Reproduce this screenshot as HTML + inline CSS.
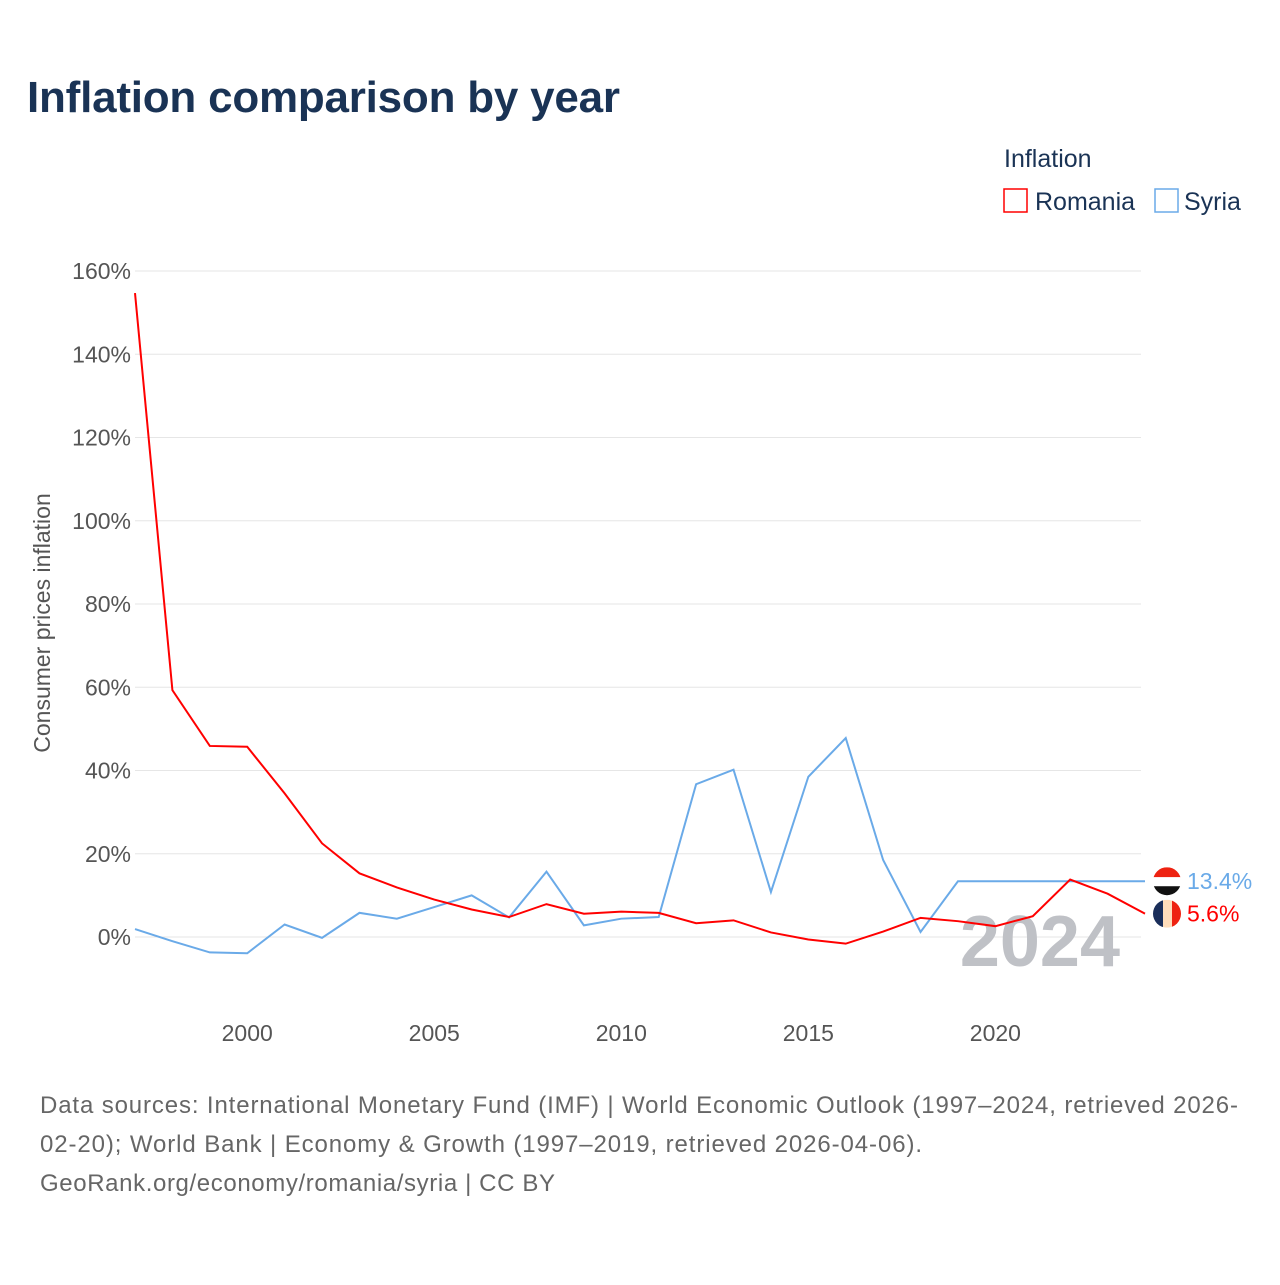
<!DOCTYPE html>
<html><head><meta charset="utf-8"><style>
body{margin:0;background:#fff;font-family:"Liberation Sans",sans-serif}
svg text{font-family:"Liberation Sans",sans-serif}
</style></head><body>
<svg width="1280" height="1280" viewBox="0 0 1280 1280">
<text x="27" y="112" font-size="44" font-weight="bold" fill="#1a3355" textLength="593">Inflation comparison by year</text>
<text x="1004" y="167" font-size="25" fill="#1a3355">Inflation</text>
<g><rect x="1004" y="189" width="23" height="23" fill="none" stroke="#f00" stroke-width="1.5"/><text x="1035" y="210" font-size="25" fill="#1a3355">Romania</text></g>
<g><rect x="1155" y="189" width="23" height="23" fill="none" stroke="#6aaae8" stroke-width="1.5"/><text x="1184" y="210" font-size="25" fill="#1a3355">Syria</text></g>
<g id="grid"></g>
<g id="yt"></g>
<g id="xt"></g>
<text transform="translate(50,623) rotate(-90)" text-anchor="middle" font-size="23" fill="#555">Consumer prices inflation</text>
<text x="1120" y="966" text-anchor="end" font-size="72" font-weight="bold" fill="#bfc1c6">2024</text>
<g id="series"></g>
<text x="40" y="1113" font-size="24" fill="#666" textLength="1198">Data sources: International Monetary Fund (IMF) | World Economic Outlook (1997–2024, retrieved 2026-</text>
<text x="40" y="1152" font-size="24" fill="#666" textLength="882">02-20); World Bank | Economy &amp; Growth (1997–2019, retrieved 2026-04-06).</text>
<text x="40" y="1191" font-size="24" fill="#666" textLength="515">GeoRank.org/economy/romania/syria | CC BY</text>
</svg>
<script>
const years=[1997,1998,1999,2000,2001,2002,2003,2004,2005,2006,2007,2008,2009,2010,2011,2012,2013,2014,2015,2016,2017,2018,2019,2020,2021,2022,2023,2024];
const romania=[154.7,59.3,45.9,45.7,34.5,22.5,15.3,11.9,9.0,6.6,4.8,7.9,5.6,6.1,5.8,3.3,4.0,1.1,-0.6,-1.6,1.3,4.6,3.8,2.6,5.0,13.8,10.4,5.6];
const syriaYears=[1997,1998,1999,2000,2001,2002,2003,2004,2005,2006,2007,2008,2009,2010,2011,2012,2013,2014,2015,2016,2017,2018,2019];
const syria=[1.9,-1.0,-3.7,-3.9,3.0,-0.2,5.8,4.4,7.2,10.0,4.7,15.7,2.8,4.4,4.8,36.7,40.2,10.8,38.5,47.8,18.5,1.2,13.4];
const yTicks=[0,20,40,60,80,100,120,140,160];
const xTicks=[2000,2005,2010,2015,2020];
const NS="http://www.w3.org/2000/svg";
const X=y=>135+(y-1997)*(1145-135)/27;
const Y=v=>937-v*(937-271)/160;
function mk(t,a,p){const e=document.createElementNS(NS,t);for(const k in a)e.setAttribute(k,a[k]);p.appendChild(e);return e;}
const grid=document.getElementById('grid'),yt=document.getElementById('yt'),xt=document.getElementById('xt'),ser=document.getElementById('series');
yTicks.forEach(v=>{
 const l=mk('line',{x1:135,x2:1141,y1:Y(v),y2:Y(v),stroke:'#e6e6e6','stroke-width':1},grid);
 
 
 const t=mk('text',{x:131,y:Y(v)+8,'text-anchor':'end','font-size':23,fill:'#555'},yt);
 t.textContent=v+'%';
 
 
});
xTicks.forEach(v=>{
 const t=mk('text',{x:X(v),y:1041,'text-anchor':'middle','font-size':23,fill:'#555'},xt);
 t.textContent=v;
 
 
});
const sPts=syriaYears.map((y,i)=>X(y)+','+Y(syria[i]));
sPts.push(X(2024)+','+Y(syria[syria.length-1]));
const sl=mk('polyline',{points:sPts.join(' '),fill:'none',stroke:'#6aaae8','stroke-width':2},ser);


const rl=mk('polyline',{points:years.map((y,i)=>X(y)+','+Y(romania[i])).join(' '),fill:'none',stroke:'#f00','stroke-width':2},ser);


const sv=syria[syria.length-1],rv=romania[romania.length-1];
const fy=Y(sv),ry=Y(rv);
const f1=mk('g',{},ser);


mk('clipPath',{id:'c1'},f1);mk('circle',{cx:1167,cy:fy,r:14},f1.firstChild);
const g1=mk('g',{'clip-path':'url(#c1)'},f1);
mk('rect',{x:1153,y:fy-14,width:28,height:10,fill:'#e21'},g1);
mk('rect',{x:1153,y:fy-4,width:28,height:9,fill:'#fff'},g1);
mk('rect',{x:1153,y:fy+5,width:28,height:10,fill:'#111'},g1);
const f2=mk('g',{},ser);


mk('clipPath',{id:'c2'},f2);mk('circle',{cx:1167,cy:ry,r:14},f2.firstChild);
const g2=mk('g',{'clip-path':'url(#c2)'},f2);
mk('rect',{x:1153,y:ry-14,width:10,height:28,fill:'#1a2e5a'},g2);
mk('rect',{x:1163,y:ry-14,width:9,height:28,fill:'#fdb'},g2);
mk('rect',{x:1172,y:ry-14,width:10,height:28,fill:'#e21'},g2);
const t1=mk('text',{x:1187,y:fy+8,'font-size':23,fill:'#6aaae8'},ser);
t1.textContent=sv.toFixed(1)+'%';


const t2=mk('text',{x:1187,y:ry+8,'font-size':23,fill:'#f00'},ser);
t2.textContent=rv.toFixed(1)+'%';


</script>
</body></html>
